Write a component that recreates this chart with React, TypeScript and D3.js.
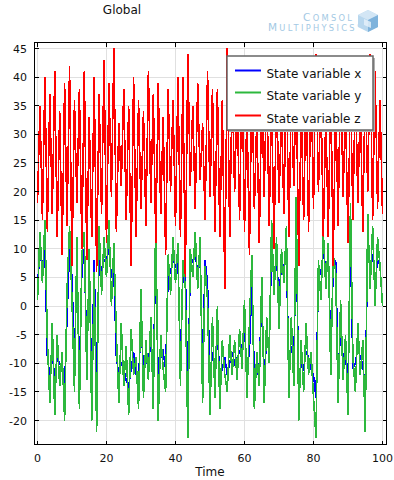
import React from 'react';
import * as d3 from 'd3';

const timeStart = 0;
const timeEnd = 100;

const stateX = [
  4, 9, 7, 10, -9, -12, -8, -13, -9, -10,
  -11, -14, -2, 10, 5, -10, 8, -12, 6, 10,
  -9, 7, -14, 8, -15, 9, 6, 8, 8, 10,
  5, 6, -9, -12, -10, -11, -13, -14, -11, -8,
  -12, -13, -3, -11, -10, -9, -7, -12, 10, -14,
  -9, -8, -11, 5, 6, 8, 7, 8, -9, 5,
  6, -16, 7, 8, 9, 6, 8, -11, 8, 4,
  -13, -8, -11, -5, -12, -11, -9, -12, -10, -8,
  -10, -9, -8, -7, -4, -11, -8, 4, -12, -12,
  -10, 1, -12, -6, -8, 10, 6, 8, 2, 7,
  7, 9, -11, -7, -10, 12, -14, -10, -11, -8,
  -9, -11, -12, -16, 5, 6, 9, 7, 8, -7,
  6, 8, -12, -4, -9, -9, -13, 11, -11, -10,
  -7, -9, -10, -15, 10, 7, 9, 4, 8, 7,
  0,
];

const stateY = [
  1, 13, 4, 15, -6, -17, -3, -19, -5, -14,
  -8, -20, 3, 14, 1, -15, 12, -18, 9, 13,
  -13, 10, -20, 6, -22, 14, 2, 12, 5, 15,
  0, 11, -5, -17, -3, -14, -7, -19, -4, -12,
  -9, -18, 3, -16, -6, -13, -2, -18, 17, -20,
  -5, -11, -15, 9, 2, 12, 4, 11, -14, 8,
  3, -23, 10, 5, 13, 3, 12, -17, 7, 1,
  -19, -2, -16, 0, -18, -6, -12, -15, -5, -12,
  -6, -13, -4, -11, 1, -16, -3, 9, -18, -8,
  -14, 5, -17, -2, -10, 15, 2, 12, -4, 10,
  4, 14, -16, -2, -14, 19, -20, -6, -15, -3,
  -12, -8, -16, -23, 8, 1, 13, 3, 11, -12,
  9, 6, -17, 1, -13, -5, -19, 18, -9, -15,
  -3, -12, -6, -22, 16, 3, 14, 0, 12, 7,
  0,
];

const stateZ = [
  18, 35, 15, 40, 13, 37, 16, 41, 12, 34,
  9, 39, 14, 42, 7, 36, 18, 38, 10, 41,
  8, 33, 12, 40, 6, 37, 16, 43, 11, 39,
  19, 45, 13, 32, 21, 38, 15, 35, 7, 40,
  12, 36, 17, 34, 14, 41, 18, 37, 11, 39,
  16, 33, 9, 38, 20, 36, 14, 40, 12, 40,
  5, 44, 21, 35, 17, 39, 22, 32, 15, 41,
  19, 38, 13, 38, 12, 36, 3, 45, 12, 39,
  20, 37, 15, 42, 13, 35, 9, 40, 17, 33,
  11, 38, 19, 41, 14, 36, 10, 39, 18, 34,
  16, 42, 12, 37, 21, 40, 7, 35, 15, 39,
  13, 41, 17, 44, 20, 38, 12, 34, 12, 40,
  7, 37, 14, 43, 19, 35, 11, 39, 15, 40,
  18, 36, 13, 40, 20, 44, 15, 41, 17, 36,
  16,
];

const seriesNames = ['State variable x', 'State variable y', 'State variable z'];
const xTicks = [0, 20, 40, 60, 80, 100];
const yTicks = [-20, -15, -10, -5, 0, 5, 10, 15, 20, 25, 30, 35, 40, 45];

const colors = ['#0000ff', '#2db83d', '#ff0000'];
const font = '"DejaVu Sans", sans-serif';

export default function App() {
  const W = 394;
  const H = 480;
  const plot = { left: 34.5, right: 386.5, top: 42.5, bottom: 444.5 };

  const time = d3.range(stateX.length).map(
    (i) => timeStart + (i * (timeEnd - timeStart)) / (stateX.length - 1)
  );

  const x = d3.scaleLinear().domain([0, 100]).range([37.5, 382.5]);
  const y = d3.scaleLinear().domain([-20, 45]).range([420.5, 48.5]);

  const line = d3
    .line<number>()
    .x((_, i) => x(time[i]))
    .y((d) => y(d));

  const series = [stateX, stateY, stateZ];

  return (
    <svg
      width={W}
      height={H}
      style={{ position: 'absolute', left: 0, top: 0, background: '#fff' }}
      fontFamily={font}
    >
      <defs>
        <clipPath id="plotClip">
          <rect x={plot.left} y={plot.top} width={plot.right - plot.left} height={plot.bottom - plot.top} />
        </clipPath>
      </defs>

      <text x={122} y={14} fontSize={12} textAnchor="middle" fill="#111">Global</text>

      {/* logo */}
      <g fill="#a3c9e4" fontFamily={font}>
        <text x={303} y={21} fontSize={10.5} letterSpacing={2.3}>
          C<tspan fontSize={8.3}>OMSOL</tspan>
        </text>
        <text x={268} y={30.5} fontSize={10.5} letterSpacing={2.3}>
          M<tspan fontSize={8.3}>ULTIPHYSICS</tspan>
          <tspan fontSize={4} dy={-4}>®</tspan>
        </text>
        <g transform="translate(358,10)">
          <polygon points="10,0 20,5 20,17 10,22 0,17 0,5" fill="#b8d7ee" />
          <polygon points="10,0 20,5 10,10 0,5" fill="#d3e6f5" />
          <polygon points="10,10 20,5 20,17 10,22" fill="#7fb3dc" />
          <polygon points="6,9 13,12 13,18 6,15" fill="#e6f1fa" opacity={0.8} />
        </g>
      </g>

      {/* grid */}
      <g stroke="#e0e0e0" strokeWidth={1} shapeRendering="crispEdges">
        {xTicks.map((t) => (
          <line key={'gx' + t} x1={x(t)} x2={x(t)} y1={plot.top} y2={plot.bottom} />
        ))}
        {yTicks.map((t) => (
          <line key={'gy' + t} x1={plot.left} x2={plot.right} y1={y(t)} y2={y(t)} />
        ))}
      </g>

      {/* data */}
      <g clipPath="url(#plotClip)" fill="none">
        {series.map((s, k) => (
          <path
            key={k}
            d={line(s) ?? ''}
            stroke={colors[k]}
            strokeWidth={1.6}
            strokeLinejoin="miter"
            shapeRendering="crispEdges"
          />
        ))}
      </g>

      {/* frame and ticks */}
      <g stroke="#000" strokeWidth={1} shapeRendering="crispEdges" fill="none">
        <rect x={plot.left} y={plot.top} width={plot.right - plot.left} height={plot.bottom - plot.top} />
        {xTicks.map((t) => (
          <g key={'tx' + t}>
            <line x1={x(t)} x2={x(t)} y1={plot.bottom} y2={plot.bottom - 4} />
            <line x1={x(t)} x2={x(t)} y1={plot.top} y2={plot.top + 4} />
          </g>
        ))}
        {yTicks.map((t) => (
          <g key={'ty' + t}>
            <line x1={plot.left} x2={plot.left + 4} y1={y(t)} y2={y(t)} />
            <line x1={plot.right} x2={plot.right - 4} y1={y(t)} y2={y(t)} />
          </g>
        ))}
      </g>

      {/* tick labels */}
      <g fontSize={11} fill="#111">
        {xTicks.map((t) => (
          <text key={'lx' + t} x={x(t)} y={462} textAnchor="middle">{t}</text>
        ))}
        {yTicks.map((t) => (
          <text key={'ly' + t} x={27} y={y(t) + 4} textAnchor="end">{t}</text>
        ))}
      </g>
      <text x={210} y={476} fontSize={12} textAnchor="middle" fill="#111">Time</text>

      {/* legend */}
      <g>
        <rect x={229} y={58} width={146} height={74} fill="#b0b0b0" />
        <rect x={227} y={56} width={146} height={74} fill="#fff" stroke="#666" strokeWidth={1.5} />
        {seriesNames.map((n, i) => {
          const ly = [70.5, 92.5, 115.5][i];
          return (
            <g key={n}>
              <line x1={235} x2={261} y1={ly} y2={ly} stroke={colors[i]} strokeWidth={2} />
              <text x={266.5} y={ly + 7} fontSize={12} fill="#111">{n}</text>
            </g>
          );
        })}
      </g>
    </svg>
  );
}
